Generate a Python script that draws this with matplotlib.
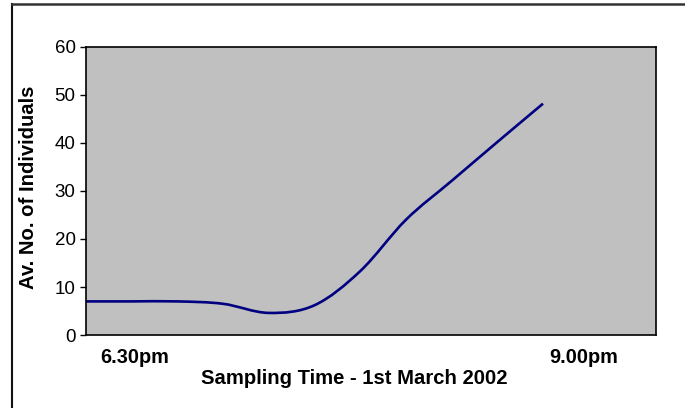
import numpy as np
import matplotlib.pyplot as plt
from matplotlib.path import Path
from matplotlib.patches import PathPatch
from matplotlib.lines import Line2D

plt.rcParams['font.family'] = ['Liberation Sans', 'DejaVu Sans']

# samples every 15 min from 6.30pm to 9.00pm
times = ['6.30pm', '6.45pm', '7.00pm', '7.15pm', '7.30pm', '7.45pm',
         '8.00pm', '8.15pm', '8.30pm', '8.45pm', '9.00pm']
individuals = [7.0, 7.0, 7.0, 6.5, 4.6, 6.2, 13.3, 24.0, 32.1, 40.2, 48.2]
y_ticks = [0, 10, 20, 30, 40, 50, 60]
x_labels = ['6.30pm', '9.00pm']
x_title = 'Sampling Time - 1st March 2002'
y_title = 'Av. No. of Individuals'

W, H = 685, 408
fig = plt.figure(figsize=(W / 100, H / 100), dpi=100)
fig.patch.set_facecolor('white')

# plot area in pixels: x 86..656, y 47..335
ax = fig.add_axes([86 / W, 1 - 335 / H, (656 - 86) / W, (335 - 47) / H])
ax.set_facecolor('#c0c0c0')

x = np.arange(len(times), dtype=float)
y = np.array(individuals)

# smoothed line, excel style bezier through the points
verts = [(x[0], y[0])]
codes = [Path.MOVETO]
n = len(x)
for i in range(n - 1):
    p_prev = (x[i - 1], y[i - 1]) if i > 0 else (x[i], y[i])
    p_next2 = (x[i + 2], y[i + 2]) if i + 2 < n else (x[i + 1], y[i + 1])
    c1 = (x[i] + (x[i + 1] - p_prev[0]) / 6, y[i] + (y[i + 1] - p_prev[1]) / 6)
    c2 = (x[i + 1] - (p_next2[0] - x[i]) / 6, y[i + 1] - (p_next2[1] - y[i]) / 6)
    verts += [c1, c2, (x[i + 1], y[i + 1])]
    codes += [Path.CURVE4] * 3
ax.add_patch(PathPatch(Path(verts, codes), facecolor='none',
                       edgecolor='#000080', linewidth=1.9, capstyle='butt'))

# axis span: last sample sits at 543px, right edge at 656px
ax.set_xlim(0, (n - 1) * (656 - 86) / (543 - 86))
ax.set_ylim(0, 60)
ax.set_yticks(y_ticks)
ax.set_xticks([])
ax.tick_params(axis='y', direction='out', length=4.5, width=1, pad=3,
               labelsize=13.5, colors='black')
for s in ax.spines.values():
    s.set_color('black')
    s.set_linewidth(1.2)

# category labels and titles
fig.text(135 / W, 1 - 363 / H, x_labels[0], ha='center', va='baseline',
         fontsize=14.3, fontweight='bold')
fig.text(584 / W, 1 - 363 / H, x_labels[1], ha='center', va='baseline',
         fontsize=14.3, fontweight='bold')
fig.text(354 / W, 1 - 384 / H, x_title, ha='center', va='baseline',
         fontsize=14.6, fontweight='bold')
fig.text(29 / W, 1 - 187 / H, y_title, ha='center', va='center',
         rotation=90, fontsize=14.6, fontweight='bold')

# chart border (cut off at right and bottom)
fig.add_artist(Line2D([12 / W, 12 / W], [0, 1 - 4 / H], color='#111111', lw=1.5))
fig.add_artist(Line2D([12 / W, 1], [1 - 4 / H, 1 - 4 / H], color='#333333', lw=1.8))

fig.savefig('out.png', dpi=100)
